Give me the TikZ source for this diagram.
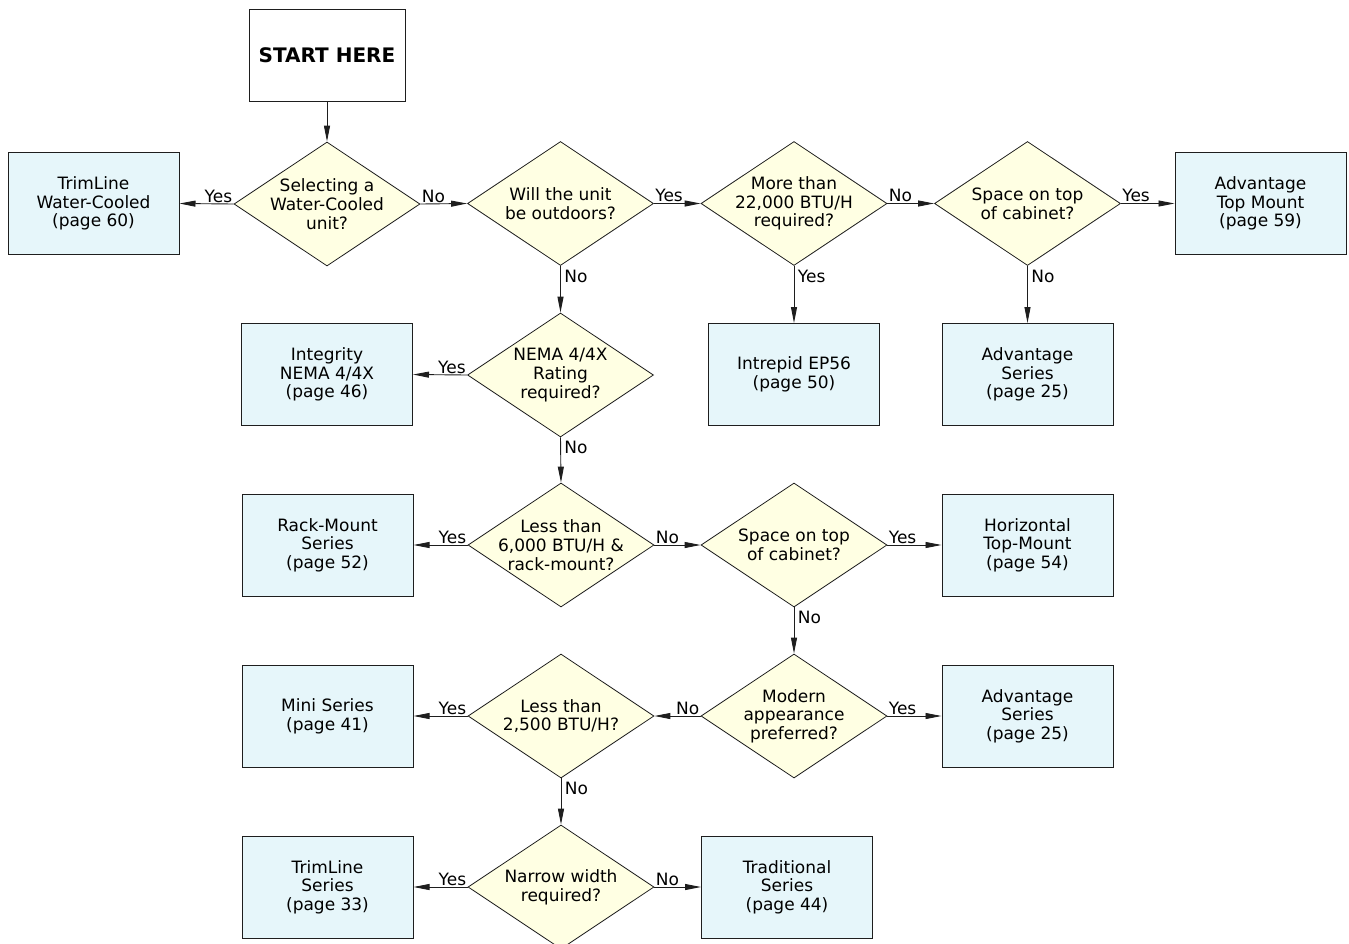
\documentclass[tikz,border=0pt]{standalone}
\usepackage{fontspec}
\setmainfont{DejaVu Sans}
\usetikzlibrary{shapes.geometric,arrows.meta}
\definecolor{boxfill}{RGB}{230,246,250}
\definecolor{decfill}{RGB}{255,255,227}
\definecolor{linecol}{RGB}{30,30,30}
\begin{document}
\begin{tikzpicture}[x=1pt,y=-1pt,
  every node/.style={font=\fontsize{17}{18.7}\selectfont, text=black},
  startbox/.style={rectangle, draw=linecol, line width=1pt, fill=white,
    minimum width=156pt, minimum height=92pt, inner sep=0pt,
    font=\fontsize{20}{24}\selectfont\bfseries},
  prodbox/.style={rectangle, draw=linecol, line width=1pt, fill=boxfill,
    minimum width=171pt, minimum height=102pt, inner sep=0pt, align=center},
  decision/.style={diamond, draw=linecol, line width=0.8pt, fill=decfill,
    minimum width=186pt, minimum height=124pt, inner sep=-25pt, align=center},
  arr/.style={draw=linecol, line width=0.9pt, -{Triangle[length=16pt,width=6pt]}},
  lblW/.style={pos=0, anchor=south east, inner sep=1pt},
  lblE/.style={pos=0, anchor=south west, inner sep=1pt},
  lblS/.style={pos=0, anchor=north west, inner sep=1pt, xshift=2.5pt, yshift=-2.5pt}
]
\useasboundingbox (0,0) rectangle (1349,943);

% row 0
\node[startbox] (start) at (327,55) {START HERE};

% row 1
\node[prodbox]  (twc)  at (93.5,203.5) {TrimLine\\Water-Cooled\\(page 60)};
\node[decision] (d1)   at (327,204) {Selecting a\\Water-Cooled\\unit?};
\node[decision] (d2)   at (560.5,203.5) {Will the unit\\be outdoors?};
\node[decision] (d3)   at (794,203.5) {More than\\22,000 BTU/H\\required?};
\node[decision] (d4)   at (1027.5,203.5) {Space on top\\of cabinet?};
\node[prodbox]  (atm)  at (1260.5,203.5) {Advantage\\Top Mount\\(page 59)};

% row 2
\node[prodbox]  (integ) at (327,374.5) {Integrity\\NEMA 4/4X\\(page 46)};
\node[decision] (nema)  at (560.5,375) {NEMA 4/4X\\Rating\\required?};
\node[prodbox]  (intr)  at (794,374.5) {Intrepid EP56\\(page 50)};
\node[prodbox]  (adv1)  at (1027.5,374.5) {Advantage\\Series\\(page 25)};

% row 3
\node[prodbox]  (rack) at (327.5,545) {Rack-Mount\\Series\\(page 52)};
\node[decision] (l6)   at (561,545) {Less than\\6,000 BTU/H \&\\rack-mount?};
\node[decision] (sp2)  at (794,545) {Space on top\\of cabinet?};
\node[prodbox]  (hor)  at (1027.5,545) {Horizontal\\Top-Mount\\(page 54)};

% row 4
\node[prodbox]  (mini) at (327.5,716) {Mini Series\\(page 41)};
\node[decision] (l25)  at (561,716) {Less than\\2,500 BTU/H?};
\node[decision] (mod)  at (794,716) {Modern\\appearance\\preferred?};
\node[prodbox]  (adv2) at (1027.5,716) {Advantage\\Series\\(page 25)};

% row 5
\node[prodbox]  (trim) at (327.5,887) {TrimLine\\Series\\(page 33)};
\node[decision] (nar)  at (561,887) {Narrow width\\required?};
\node[prodbox]  (trad) at (787,887) {Traditional\\Series\\(page 44)};

% connectors
\draw[arr] (start.south) -- (d1.north);
\draw[arr] (d1.west) -- node[lblW] {Yes} (twc.east);
\draw[arr] (d1.east) -- node[lblE] {No} (d2.west);
\draw[arr] (d2.east) -- node[lblE] {Yes} (d3.west);
\draw[arr] (d2.south) -- node[lblS] {No} (nema.north);
\draw[arr] (d3.east) -- node[lblE] {No} (d4.west);
\draw[arr] (d3.south) -- node[lblS] {Yes} (intr.north);
\draw[arr] (d4.east) -- node[lblE] {Yes} (atm.west);
\draw[arr] (d4.south) -- node[lblS] {No} (adv1.north);
\draw[arr] (nema.west) -- node[lblW] {Yes} (integ.east);
\draw[arr] (nema.south) -- node[lblS] {No} (l6.north);
\draw[arr] (l6.west) -- node[lblW] {Yes} (rack.east);
\draw[arr] (l6.east) -- node[lblE] {No} (sp2.west);
\draw[arr] (sp2.east) -- node[lblE] {Yes} (hor.west);
\draw[arr] (sp2.south) -- node[lblS] {No} (mod.north);
\draw[arr] (mod.west) -- node[lblW] {No} (l25.east);
\draw[arr] (mod.east) -- node[lblE] {Yes} (adv2.west);
\draw[arr] (l25.west) -- node[lblW] {Yes} (mini.east);
\draw[arr] (l25.south) -- node[lblS] {No} (nar.north);
\draw[arr] (nar.west) -- node[lblW] {Yes} (trim.east);
\draw[arr] (nar.east) -- node[lblE] {No} (trad.west);
\end{tikzpicture}
\end{document}
